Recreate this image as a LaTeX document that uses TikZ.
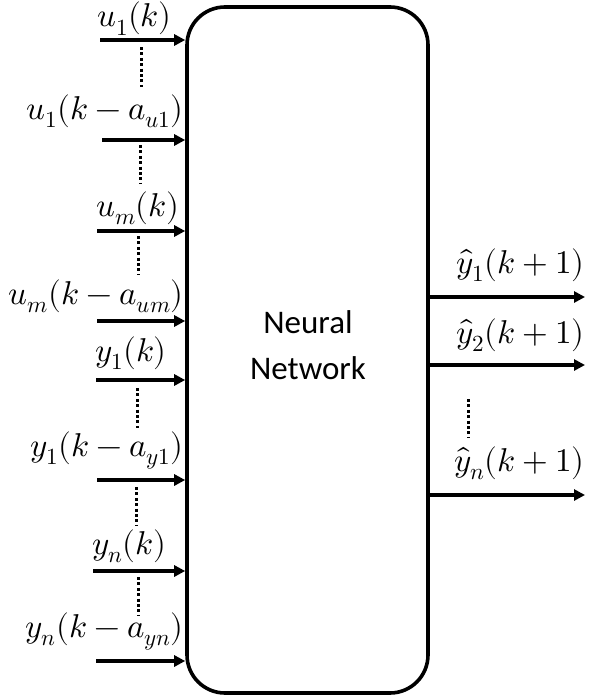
\documentclass[tikz,border=0pt]{standalone}
\usepackage{fontspec}
\usepackage{unicode-math}
\setmathfont{Latin Modern Math}
\newfontfamily\calib{Carlito}
\usetikzlibrary{arrows.meta}
\begin{document}
\begin{tikzpicture}[x=1pt,y=-1pt,
  sig/.style={line width=3.6pt,-{Triangle[length=11pt,width=11pt]}},
  vdots/.style={line width=3pt,dash pattern=on 3pt off 2.4pt},
  lab/.style={font=\fontsize{33}{38}\selectfont,inner sep=0pt},
  nnbox/.style={draw,line width=3.6pt,rounded corners=38pt,minimum width=241pt,minimum height=686pt,inner sep=0pt}]
\useasboundingbox (0,0) rectangle (589,696);
\node[nnbox] (nn) at (307.5,350) {};
\node[font=\calib\fontsize{33}{46}\selectfont,align=center] (txt) at (308,345) {Neural\\Network};
% input starts
\coordinate (i1) at (100,40);
\coordinate (i2) at (102,140);
\coordinate (i3) at (97,231);
\coordinate (i4) at (97,321);
\coordinate (i5) at (96,380);
\coordinate (i6) at (97,480);
\coordinate (i7) at (93,571);
\coordinate (i8) at (96,661);
\foreach \i in {1,...,8} {\draw[sig] (i\i) -- (i\i -| nn.west);}
% labels
\node[lab,anchor=base west] (l1) at (97,27) {$u_1(k)$};
\node[lab,anchor=base east] (l2) at (184,119) {$u_1(k-a_{u1})$};
\node[lab,anchor=base west] (l3) at (96,216) {$u_m(k)$};
\node[lab,anchor=base east] (l4) at (184,304) {$u_m(k-a_{um})$};
\node[lab,anchor=base west] (l5) at (95,361) {$y_1(k)$};
\node[lab,anchor=base east] (l6) at (184,456) {$y_1(k-a_{y1})$};
\node[lab,anchor=base west] (l7) at (92,554) {$y_n(k)$};
\node[lab,anchor=base east] (l8) at (184,637) {$y_n(k-a_{yn})$};
% dots
\coordinate (d1a) at (141,47); \coordinate (d1b) at (141,87);
\coordinate (d2a) at (140,145); \coordinate (d2b) at (140,184);
\coordinate (d3a) at (138,236); \coordinate (d3b) at (138,274);
\coordinate (d4a) at (137,388); \coordinate (d4b) at (137,428);
\coordinate (d5a) at (136,487); \coordinate (d5b) at (136,526);
\coordinate (d6a) at (138,577); \coordinate (d6b) at (138,616);
\coordinate (d7a) at (468,399); \coordinate (d7b) at (468,438);
\foreach \i in {1,...,7} {\draw[vdots] (d\i a) -- (d\i b);}
% outputs
\coordinate (o1) at (585,297);
\coordinate (o2) at (585,365);
\coordinate (o3) at (585,495);
\foreach \i in {1,2,3} {\draw[sig] (o\i -| nn.east) -- (o\i);}
\node[lab,anchor=base east] (r1) at (585,273) {$\hat{y}_1(k+1)$};
\node[lab,anchor=base east] (r2) at (585,343) {$\hat{y}_2(k+1)$};
\node[lab,anchor=base east] (r3) at (585,471) {$\hat{y}_n(k+1)$};
\end{tikzpicture}
\end{document}
